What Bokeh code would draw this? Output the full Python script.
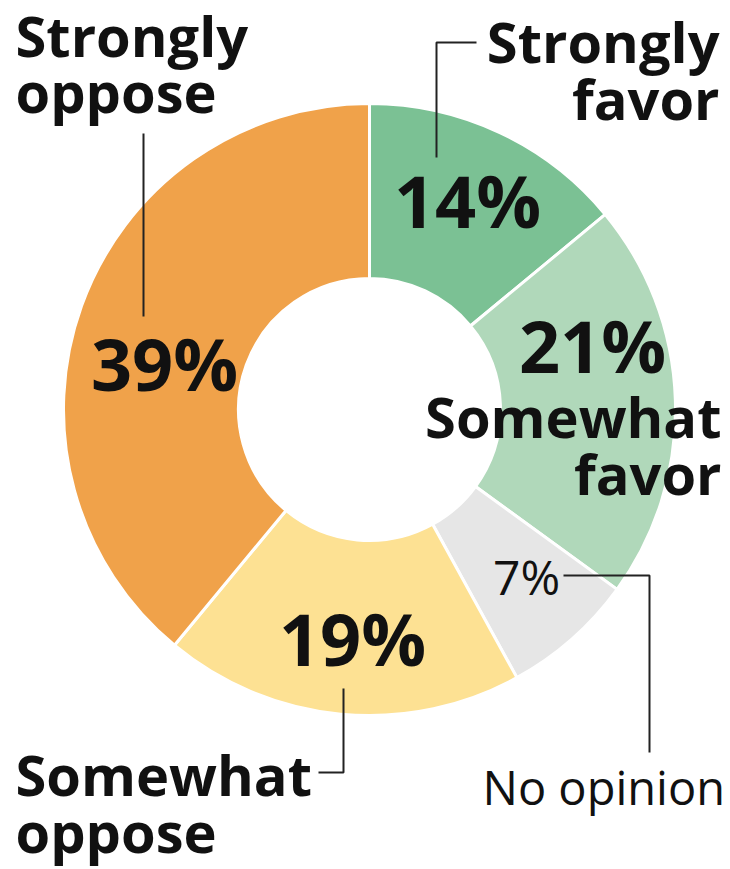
import math
from bokeh.plotting import figure
from bokeh.models import Range1d, ColumnDataSource
from bokeh.core.properties import value
from bokeh.embed import file_html
from bokeh.resources import INLINE

# ---- data ----
categories = ["Strongly favor", "Somewhat favor", "No opinion", "Somewhat oppose", "Strongly oppose"]
percents = [14, 21, 7, 19, 39]
colors = ["#7bc194", "#b0d8ba", "#e6e6e6", "#fde193", "#f0a24a"]
pct_labels = ["14%", "21%", "7%", "19%", "39%"]

W, H = 730, 869
p = figure(width=W, height=H, output_backend="svg", toolbar_location=None,
           x_range=Range1d(0, W), y_range=Range1d(0, H), min_border=0)
p.axis.visible = False
p.grid.visible = False
p.outline_line_color = None
p.background_fill_color = "white"

def X(x):
    return x

def Y(y):
    return H - y

cx, cy = X(369), Y(409)
r_out, r_in = 306, 131

starts, ends = [], []
cum = 0
for v in percents:
    starts.append(math.radians(90 - cum * 3.6))
    cum += v
    ends.append(math.radians(90 - cum * 3.6))

src = ColumnDataSource(dict(start=starts, end=ends, color=colors, cat=categories))
p.annular_wedge(x=cx, y=cy, inner_radius=r_in, outer_radius=r_out,
                start_angle="start", end_angle="end", direction="clock",
                fill_color="color", line_color="white", line_width=3, source=src)

FONT = value("Open Sans")
SHIFT = 0.43  # empirical baseline correction (fraction of font size)

def txt(x, y, s, size, bold=True, align="left"):
    yb = y - SHIFT * size
    p.text(x=[X(x)], y=[Y(yb)], text=[s], text_font=FONT,
           text_font_size=value(f"{size}px"),
           text_font_style="bold" if bold else "normal",
           text_align=align, text_baseline="alphabetic", text_color="#111111")

# percentage labels
PS = 72
txt(467, 230, pct_labels[0], PS, align="center")
txt(592, 375, pct_labels[1], PS, align="center")
txt(526, 597, pct_labels[2], 48, bold=False, align="center")
txt(352, 668, pct_labels[3], PS, align="center")
txt(164, 393, pct_labels[4], PS, align="center")

# category labels
LS = 56
txt(15, 59, "Strongly", LS)
txt(15, 115, "oppose", LS)
txt(719, 65, "Strongly", LS, align="right")
txt(719, 122, "favor", LS, align="right")
txt(721, 440, "Somewhat", LS, align="right")
txt(721, 497, "favor", LS, align="right")
txt(15, 798, "Somewhat", LS)
txt(15, 855, "oppose", LS)
txt(482, 807, "No opinion", 47, bold=False)

# leader lines
def leader(pts):
    p.line([X(a) for a, b in pts], [Y(b) for a, b in pts], line_color="#222222", line_width=2)

leader([(143, 133), (143, 316)])
leader([(476, 42), (436, 42), (436, 157)])
leader([(563, 575), (649, 575), (649, 752)])
leader([(318, 772), (343, 772), (343, 688)])

open("out.html", "w").write(file_html(p, INLINE))
